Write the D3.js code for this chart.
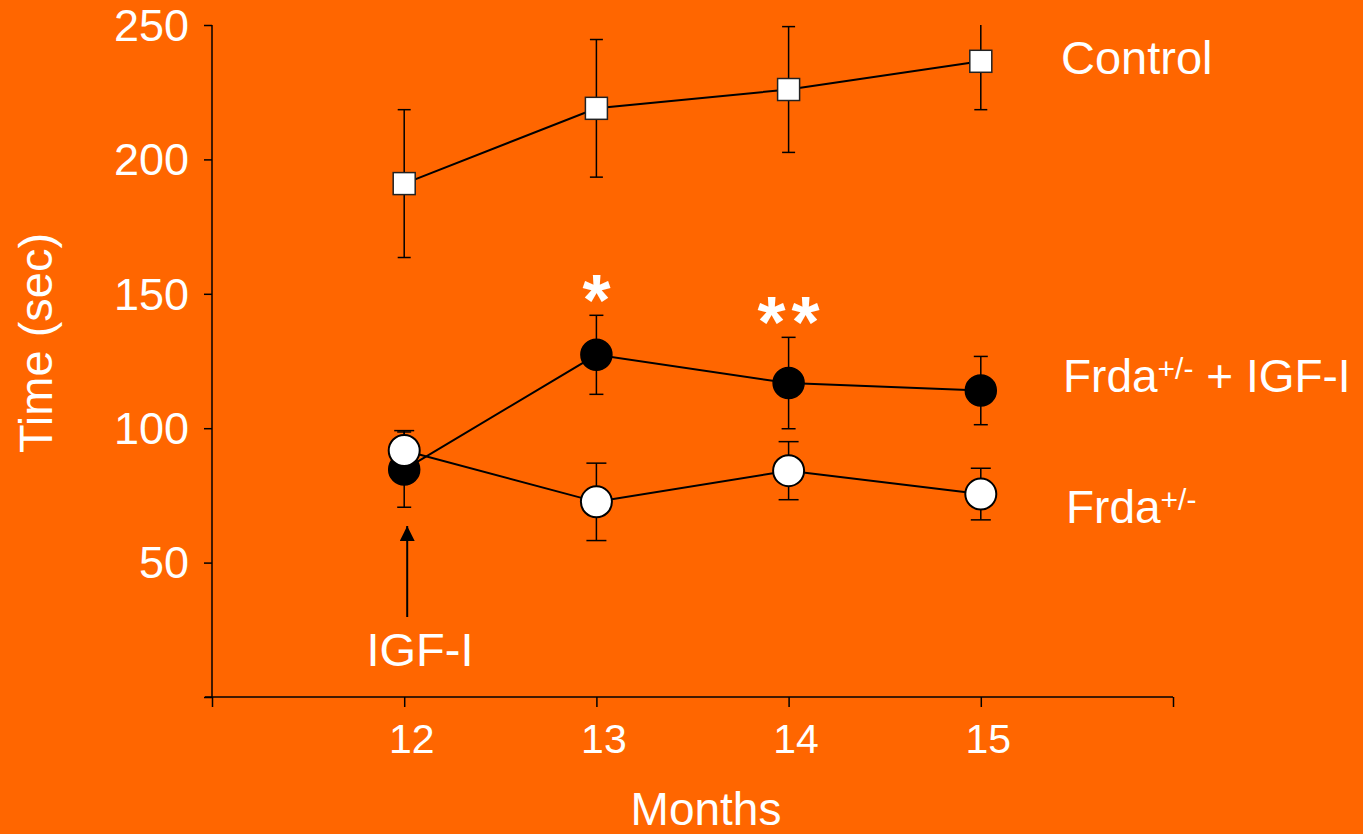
<!DOCTYPE html>
<html>
<head>
<meta charset="utf-8">
<script src="https://cdn.jsdelivr.net/npm/d3@7"></script>
<style>
  html, body { margin: 0; padding: 0; background: #ff6600; }
  svg { display: block; font-family: "Liberation Sans", Arial, sans-serif; }
</style>
</head>
<body>
<svg id="chart" width="1363" height="834"></svg>
<script>
// Months of measurement
const months = [12, 13, 14, 15];
const xTicks = [11, 12, 13, 14, 15, 16];
const xTickLabels = ["", "12", "13", "14", "15", ""];
const yTicks = [0, 50, 100, 150, 200, 250];
const yTickLabels = ["", "50", "100", "150", "200", "250"];

// Rotarod time (sec), mean and SEM
const controlMean = [191, 219, 226, 236.5];
const controlErr  = [27.5, 25.6, 23.4, 18];
const igfMean     = [84.6, 127.3, 116.8, 114];
const igfErr      = [14, 14.7, 17, 12.7];
const frdaMean    = [91.7, 72.6, 84.2, 75.5];
const frdaErr     = [7.4, 14.4, 10.8, 9.6];

// Significance marks over the treated group
const sigMonths = [13, 14];
const sigLabels = ["*", "**"];

const svg = d3.select("#chart");
const x = d3.scaleLinear().domain([11, 16]).range([212, 1173]);
const y = d3.scaleLinear().domain([0, 250]).range([697, 25]);

const white = "#ffffff";

// clip region for the plot area
svg.append("defs").append("clipPath").attr("id", "plot")
  .append("rect").attr("x", x(11)).attr("y", y(250))
  .attr("width", x(16) - x(11)).attr("height", y(0) - y(250) + 20);

// axes
const yAxis = d3.axisLeft(y).tickValues(yTicks).tickSize(8)
  .tickFormat((d, i) => yTickLabels[i]);
const gy = svg.append("g").attr("transform", `translate(${x(11)},0)`).call(yAxis);
gy.select(".domain").attr("d", `M0,${y(250)}V${y(0)}`).attr("stroke", "#000").attr("stroke-width", 1.5);
gy.selectAll(".tick line").attr("stroke", "#000").attr("stroke-width", 1.5);
gy.selectAll(".tick text").attr("fill", white).attr("font-size", 45)
  .attr("x", -23).attr("dy", "0.34em");

const xAxis = d3.axisBottom(x).tickValues(xTicks).tickSize(10)
  .tickFormat((d, i) => xTickLabels[i]);
const gx = svg.append("g").attr("transform", `translate(0,${y(0)})`).call(xAxis);
gx.select(".domain").attr("d", `M${x(11) - 7},0H${x(16)}`).attr("stroke", "#000").attr("stroke-width", 1.5);
gx.selectAll(".tick line").attr("stroke", "#000").attr("stroke-width", 1.5);
gx.selectAll(".tick text").attr("fill", white).attr("font-size", 41)
  .attr("y", 56).attr("dy", 0).attr("dx", 7);

// axis titles
svg.append("text").attr("x", 706).attr("y", 825).attr("text-anchor", "middle")
  .attr("fill", white).attr("font-size", 46).text("Months");
svg.append("text").attr("transform", "translate(52,343) rotate(-90)")
  .attr("text-anchor", "middle").attr("fill", white).attr("font-size", 47)
  .text("Time (sec)");

const plot = svg.append("g").attr("clip-path", "url(#plot)");

function series(mean, err, capHalf) {
  return months.map((m, i) => ({ m, v: mean[i], e: err[i], capHalf }));
}
const control = series(controlMean, controlErr, 6.5);
const igf = series(igfMean, igfErr, 7);
const frda = series(frdaMean, frdaErr, 10);

function errorBars(data) {
  const g = plot.append("g").attr("stroke", "#000").attr("stroke-width", 1.5);
  data.forEach(d => {
    g.append("line").attr("x1", x(d.m)).attr("x2", x(d.m))
      .attr("y1", y(d.v + d.e)).attr("y2", y(d.v - d.e));
    [d.v + d.e, d.v - d.e].forEach(v => {
      g.append("line").attr("x1", x(d.m) - d.capHalf).attr("x2", x(d.m) + d.capHalf)
        .attr("y1", y(v)).attr("y2", y(v));
    });
  });
}
const line = d3.line().x(d => x(d.m)).y(d => y(d.v));
function trend(data) {
  plot.append("path").datum(data).attr("d", line)
    .attr("fill", "none").attr("stroke", "#000").attr("stroke-width", 2);
}

errorBars(control);
errorBars(igf);
errorBars(frda);
trend(control);
trend(igf);
trend(frda);

// markers
plot.append("g").selectAll("rect").data(control).join("rect")
  .attr("x", d => x(d.m) - 11).attr("y", d => y(d.v) - 11)
  .attr("width", 22).attr("height", 22)
  .attr("fill", "#fff").attr("stroke", "#222").attr("stroke-width", 1.5);
plot.append("g").selectAll("circle").data(igf).join("circle")
  .attr("cx", d => x(d.m)).attr("cy", d => y(d.v)).attr("r", 15.5)
  .attr("fill", "#000").attr("stroke", "#000").attr("stroke-width", 1.5);
plot.append("g").selectAll("circle").data(frda).join("circle")
  .attr("cx", d => x(d.m)).attr("cy", d => y(d.v)).attr("r", 15.5)
  .attr("fill", "#fff").attr("stroke", "#000").attr("stroke-width", 2);

// significance asterisks, placed just above the upper error bar
sigMonths.forEach((m, i) => {
  const top = igf[months.indexOf(m)];
  svg.append("text").attr("x", x(m)).attr("y", y(top.v + top.e) + 10)
    .attr("text-anchor", "middle").attr("fill", white)
    .attr("font-size", 72).attr("font-weight", "bold")
    .attr("letter-spacing", 6)
    .attr("dx", 3)
    .text(sigLabels[i]);
});

// treatment start annotation
const defs = svg.select("defs");
defs.append("marker").attr("id", "arrow").attr("viewBox", "0 0 10 10")
  .attr("refX", 10).attr("refY", 5).attr("markerWidth", 15).attr("markerHeight", 15)
  .attr("markerUnits", "userSpaceOnUse").attr("orient", "auto")
  .append("path").attr("d", "M0,0L10,5L0,10Z").attr("fill", "#000");
svg.append("line").attr("x1", x(12) + 3).attr("x2", x(12) + 3)
  .attr("y1", 617).attr("y2", 526)
  .attr("stroke", "#000").attr("stroke-width", 2).attr("marker-end", "url(#arrow)");
svg.append("text").attr("x", 420).attr("y", 666).attr("text-anchor", "middle")
  .attr("fill", white).attr("font-size", 47).text("IGF-I");

// series labels
svg.append("text").attr("x", 1061).attr("y", 74).attr("fill", white)
  .attr("font-size", 47).text("Control");
const t1 = svg.append("text").attr("x", 1063).attr("y", 392).attr("fill", white).attr("font-size", 46);
t1.append("tspan").text("Frda");
t1.append("tspan").attr("font-size", 30).attr("dy", -13).text("+/-");
t1.append("tspan").attr("dy", 13).text(" + IGF-I");
const t2 = svg.append("text").attr("x", 1066).attr("y", 523).attr("fill", white).attr("font-size", 46);
t2.append("tspan").text("Frda");
t2.append("tspan").attr("font-size", 30).attr("dy", -13).text("+/-");
</script>
</body>
</html>
